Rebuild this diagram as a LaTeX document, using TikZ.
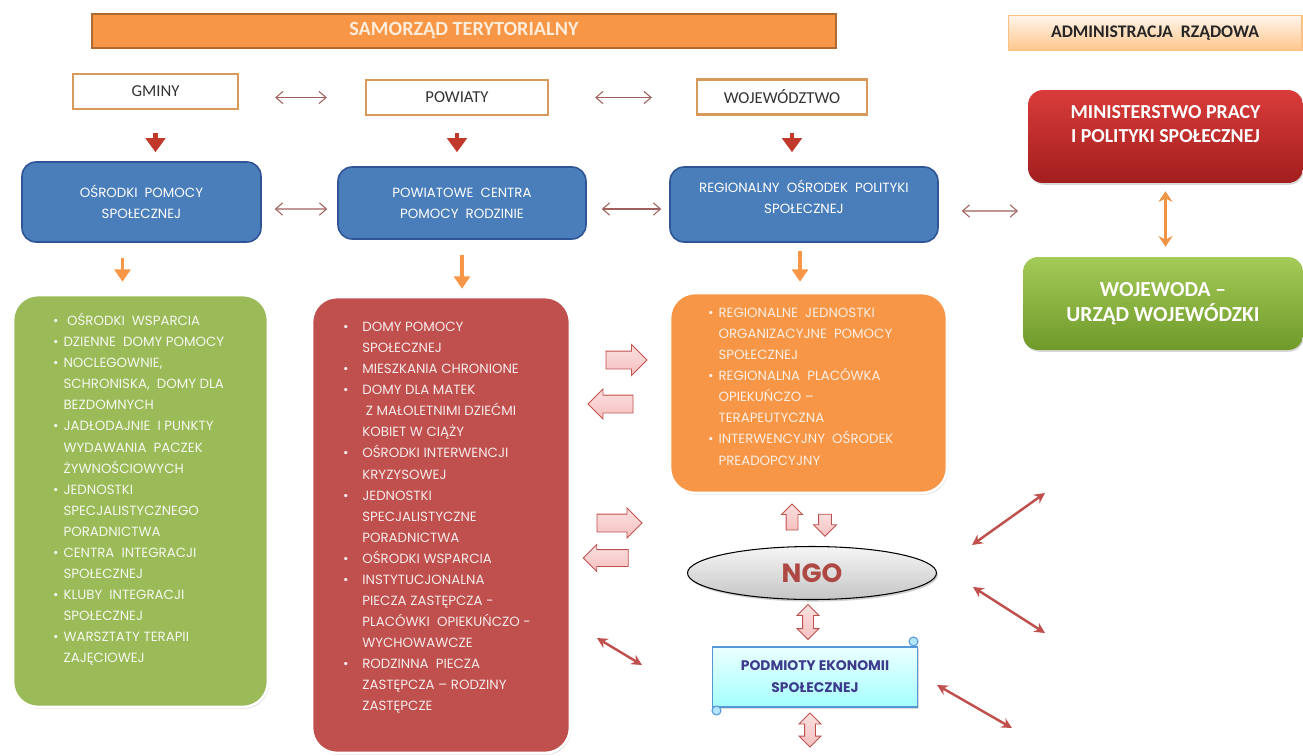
\documentclass[tikz,border=0pt]{standalone}
\usepackage{fontspec}
\setmainfont{Carlito}
\newfontfamily\gothic{Poppins}
\usetikzlibrary{arrows.meta,shapes.geometric,shapes.arrows,shadows}
\definecolor{bannerorange}{HTML}{F79646}
\definecolor{bannerline}{HTML}{B0692E}
\definecolor{boxline}{HTML}{D9995A}
\definecolor{opsblue}{HTML}{4A7EBB}
\definecolor{opsline}{HTML}{2F5597}
\definecolor{listgreen}{HTML}{9BBB59}
\definecolor{listred}{HTML}{C0504D}
\definecolor{listorange}{HTML}{F79646}
\definecolor{arrowred}{HTML}{C0392B}
\definecolor{linkmauve}{HTML}{A0605D}
\definecolor{pinkfill}{HTML}{F6C0C0}
\definecolor{pinkline}{HTML}{C0504D}
\definecolor{podmtext}{HTML}{3E3A8C}
\definecolor{mintop}{HTML}{D93C3A}
\definecolor{minbot}{HTML}{A21E1E}
\definecolor{wojtop}{HTML}{A4CA57}
\definecolor{wojbot}{HTML}{6F9A2B}
\newcommand{\gb}{\makebox[6pt][l]{\textbullet}}
\newcommand{\gi}{\hspace*{6pt}}
\newcommand{\rb}{\makebox[11pt][l]{\textbullet}}
\newcommand{\ri}{\hspace*{11pt}}
\newcommand{\itembox}[3]{\parbox[c][#2][t]{#1}{\raggedright #3}}

\begin{document}
\begin{tikzpicture}[x=0.02cm, y=-0.02cm,
    topbox/.style={draw=boxline, line width=1.4pt, fill=white, minimum height=0.7cm,
      font=\fontsize{9.5}{11}\selectfont, text=black!80},
    bluebox/.style={draw=opsline, line width=0.9pt, fill=opsblue, rounded corners=0.28cm,
      text=white, align=center, font=\gothic\fontsize{7.6}{12}\selectfont},
    listbox/.style={draw=white, line width=1.5pt, rounded corners=0.5cm, inner sep=0pt,
      drop shadow={opacity=0.3, shadow xshift=0.6pt, shadow yshift=-1pt},
      font=\gothic\fontsize{7.6}{12}\selectfont},
    govbox/.style={rounded corners=0.3cm, text=white, align=center,
      drop shadow={opacity=0.3, shadow xshift=0.6pt, shadow yshift=-1pt}},
    thin link/.style={{Straight Barb[length=4pt,width=7pt]}-{Straight Barb[length=4pt,width=7pt]},
      draw=linkmauve, line width=0.6pt},
    down red/.style={-{Triangle[width=11pt,length=8pt]}, line width=2.6pt, draw=arrowred},
    down orange/.style={-{Triangle[width=9pt,length=7pt]}, line width=2.2pt, draw=bannerorange},
    red link/.style={{Stealth[length=6pt,width=6pt]}-{Stealth[length=6pt,width=6pt]},
      draw=listred, line width=1.4pt},
    pinkarrow/.style={single arrow, draw=pinkline, line width=0.5pt,
      top color=pinkfill!50, bottom color=pinkfill},
    pinkdouble/.style={double arrow, draw=pinkline, line width=0.5pt,
      top color=pinkfill!50, bottom color=pinkfill, shape border rotate=90}]

  \fill[white] (0,0) rectangle (1303,755);
  \useasboundingbox (0,0) rectangle (1303,755);

  \node[draw=bannerline, line width=1pt, fill=bannerorange, minimum width=14.88cm, minimum height=0.68cm,
    text=orange!15, font=\bfseries\fontsize{11.5}{12}\selectfont] (samorzad) at (464,31) {SAMORZĄD TERYTORIALNY};
  \node[draw=orange!50, line width=0.6pt, top color=orange!8, bottom color=orange!45,
    minimum width=5.88cm, minimum height=0.7cm, text=black!85,
    font=\bfseries\fontsize{10.1}{11}\selectfont] (admin) at (1155,33) {ADMINISTRACJA\ \ RZĄDOWA};

  \node[topbox, minimum width=3.3cm] (gmina) at (155.5,91.5) {GMINY};
  \node[topbox, minimum width=3.64cm] (pow) at (457,97.5) {POWIATY};
  \node[topbox, minimum width=3.4cm] (woj) at (782,97) {WOJEWÓDZTWO};

  \node[bluebox, minimum width=4.78cm, minimum height=1.6cm] (ops) at (141.5,202) {OŚRODKI\ \ POMOCY\\SPOŁECZNEJ};
  \node[bluebox, minimum width=4.96cm, minimum height=1.44cm] (pcpr) at (462,203) {POWIATOWE\ \ CENTRA\\POMOCY\ \ RODZINIE};
  \node[bluebox, minimum width=5.36cm, minimum height=1.5cm] (rops) at (804,204.5) {REGIONALNY\ \ OŚRODEK\ \ POLITYKI\\SPOŁECZNEJ\\[-3pt]};

  \node[govbox, top color=mintop, bottom color=minbot, minimum width=5.5cm, minimum height=1.86cm,
    font=\bfseries\fontsize{11.3}{13.6}\selectfont]
    (mpips) at (1165.5,136.5) {MINISTERSTWO PRACY\\I POLITYKI SPOŁECZNEJ\\[1pt]};
  \node[govbox, top color=wojtop, bottom color=wojbot, minimum width=5.6cm, minimum height=1.86cm,
    font=\bfseries\fontsize{12.2}{14.5}\selectfont] (wojewoda) at (1163,303.5) {WOJEWODA –\\URZĄD WOJEWÓDZKI};

  \node[listbox, fill=listgreen, text=white!90!listgreen, minimum width=5.1cm, minimum height=8.24cm] (green) at (140.5,501)
    {\itembox{3.5cm}{7.52cm}{\gb\ OŚRODKI\ \ WSPARCIA\\
      \gb DZIENNE\ \ DOMY POMOCY\\
      \gb NOCLEGOWNIE,\\
      \gi SCHRONISKA,\ \ DOMY DLA\\
      \gi BEZDOMNYCH\\
      \gb JADŁODAJNIE\ \ I PUNKTY\\
      \gi WYDAWANIA\ \ PACZEK\\
      \gi ŻYWNOŚCIOWYCH\\
      \gb JEDNOSTKI\\
      \gi SPECJALISTYCZNEGO\\
      \gi PORADNICTWA\\
      \gb CENTRA\ \ INTEGRACJI\\
      \gi SPOŁECZNEJ\\
      \gb KLUBY\ \ INTEGRACJI\\
      \gi SPOŁECZNEJ\\
      \gb WARSZTATY TERAPII\\
      \gi ZAJĘCIOWEJ}};

  \node[listbox, fill=listred, text=white!88!listred, minimum width=5.16cm, minimum height=9.12cm] (red) at (441,525)
    {\itembox{3.92cm}{8.12cm}{\rb DOMY POMOCY\\
      \ri SPOŁECZNEJ\\
      \rb MIESZKANIA CHRONIONE\\
      \rb DOMY DLA MATEK\\
      \ri\ Z MAŁOLETNIMI DZIEĆMI\\
      \ri KOBIET W CIĄŻY\\
      \rb OŚRODKI INTERWENCJI\\
      \ri KRYZYSOWEJ\\
      \rb JEDNOSTKI\\
      \ri SPECJALISTYCZNE\\
      \ri PORADNICTWA\\
      \rb OŚRODKI WSPARCIA\\
      \rb INSTYTUCJONALNA\\
      \ri PIECZA ZASTĘPCZA -\\
      \ri PLACÓWKI\ \ OPIEKUŃCZO -\\
      \ri WYCHOWAWCZE\\
      \rb RODZINNA\ \ PIECZA\\
      \ri ZASTĘPCZA – RODZINY\\
      \ri ZASTĘPCZE}};

  \node[listbox, fill=listorange, text=white!85!listorange, minimum width=5.54cm, minimum height=4cm] (orange) at (808.5,393)
    {\itembox{4.02cm}{3.4cm}{\gb REGIONALNE\ \ JEDNOSTKI\\
      \gi ORGANIZACYJNE\ \ POMOCY\\
      \gi SPOŁECZNEJ\\
      \gb REGIONALNA\ \ PLACÓWKA\\
      \gi OPIEKUŃCZO –\\
      \gi TERAPEUTYCZNA\\
      \gb INTERWENCYJNY\ \ OŚRODEK\\
      \gi PREADOPCYJNY}};

  \node[ellipse, draw=black, line width=0.6pt, top color=gray!8, bottom color=gray!45,
    minimum width=4.98cm, minimum height=1.06cm, text=listred!90!black,
    font=\gothic\bfseries\fontsize{15}{16}\selectfont,
    drop shadow={opacity=0.35, shadow xshift=0.8pt, shadow yshift=-1.2pt}] (ngo) at (812,573) {NGO};

  \node[draw=cyan!60!blue!70, line width=0.6pt, top color=cyan!8, bottom color=cyan!35,
    minimum width=4.1cm, minimum height=1.2cm, align=center, text=podmtext,
    font=\gothic\bfseries\fontsize{7.9}{12.5}\selectfont,
    drop shadow={opacity=0.3, shadow xshift=0.6pt, shadow yshift=-1pt}] (podm) at (815,677)
    {PODMIOTY EKONOMII\\SPOŁECZNEJ};
  \draw[draw=cyan!60!blue!70, line width=0.6pt, fill=cyan!30] ([xshift=-0.09cm,yshift=0.1cm]podm.north east) circle (0.09cm);
  \draw[draw=cyan!60!blue!70, line width=0.6pt, fill=cyan!30] ([xshift=0.09cm,yshift=-0.06cm]podm.south west) circle (0.09cm);

  \node[pinkarrow, inner sep=0.17cm, single arrow head extend=0.13cm, minimum height=0.82cm] (r1) at (622,360) {};
  \node[pinkarrow, inner sep=0.17cm, single arrow head extend=0.12cm, minimum height=0.9cm, shape border rotate=180] (l1) at (615,404) {};
  \node[pinkarrow, inner sep=0.17cm, single arrow head extend=0.12cm, minimum height=0.9cm] (r2) at (615,523) {};
  \node[pinkarrow, inner sep=0.16cm, single arrow head extend=0.1cm, minimum height=0.9cm, shape border rotate=180] (l2) at (610,558) {};
  \node[pinkarrow, inner sep=0.11cm, single arrow head extend=0.09cm, minimum height=0.52cm, shape border rotate=90] (up) at (792,520) {};
  \node[pinkarrow, inner sep=0.12cm, single arrow head extend=0.1cm, minimum height=0.44cm, shape border rotate=270] (dn) at (825,522) {};
  \node[pinkdouble, inner sep=0.1cm, double arrow head extend=0.11cm, minimum height=0.7cm] (ngopodm) at (808,622) {};
  \node[pinkdouble, inner sep=0.1cm, double arrow head extend=0.11cm, minimum height=0.68cm] (podmdown) at (810,730) {};

  \draw[thin link, shorten <=0.72cm, shorten >=0.76cm] (gmina.east |- pow.west) -- (pow.west);
  \draw[thin link, shorten <=0.92cm, shorten >=0.88cm] (pow.east) -- (pow.east -| woj.west);
  \draw[thin link, shorten <=0.26cm, shorten >=0.2cm] (ops.east |- pcpr.east) ++(0,6) -- ([yshift=-0.12cm]pcpr.west);
  \draw[thin link, shorten <=0.3cm, shorten >=0.16cm] ([yshift=-0.12cm]pcpr.east) -- ([yshift=-0.12cm]pcpr.east -| rops.west);
  \coordinate (radm) at (1018,211);
  \draw[thin link, shorten <=0.46cm] ([yshift=-0.13cm]rops.east) -- (radm);

  \draw[down red, shorten <=0.46cm, shorten >=0.18cm] (gmina.south) -- (gmina.south |- ops.north);
  \draw[down red, shorten <=0.34cm, shorten >=0.28cm] (pow.south) -- (pow.south |- pcpr.north);
  \draw[down red, shorten <=0.34cm, shorten >=0.28cm] ([xshift=0.2cm]woj.south) -- ([xshift=0.2cm]woj.south |- rops.north);

  \draw[down orange, shorten <=0.3cm, shorten >=0.24cm] ([xshift=-0.38cm]ops.south) -- ([xshift=-0.38cm]ops.south |- green.north);
  \draw[down orange, shorten <=0.3cm, shorten >=0.14cm] (pcpr.south) -- (pcpr.south |- red.north);
  \draw[down orange, shorten <=0.16cm, shorten >=0.2cm] ([xshift=-0.08cm]rops.south) -- ([xshift=-0.08cm]rops.south |- orange.north);

  \draw[{Stealth[length=6pt,width=8pt]}-{Stealth[length=6pt,width=8pt]}, draw=bannerorange!85!brown, line width=1.8pt,
    shorten <=0.16cm, shorten >=0.2cm] (mpips.south) -- (mpips.south |- wojewoda.north);

  \coordinate (a1) at (597,638);
  \coordinate (a2) at (642,665);
  \coordinate (b1) at (972,545);
  \coordinate (b2) at (1045,493);
  \coordinate (c1) at (973,587);
  \coordinate (c2) at (1045,633);
  \coordinate (d1) at (937,685);
  \coordinate (d2) at (1012,728);
  \draw[red link] (a1) -- (a2);
  \draw[red link] (b1) -- (b2);
  \draw[red link] (c1) -- (c2);
  \draw[red link] (d1) -- (d2);
\end{tikzpicture}
\end{document}
